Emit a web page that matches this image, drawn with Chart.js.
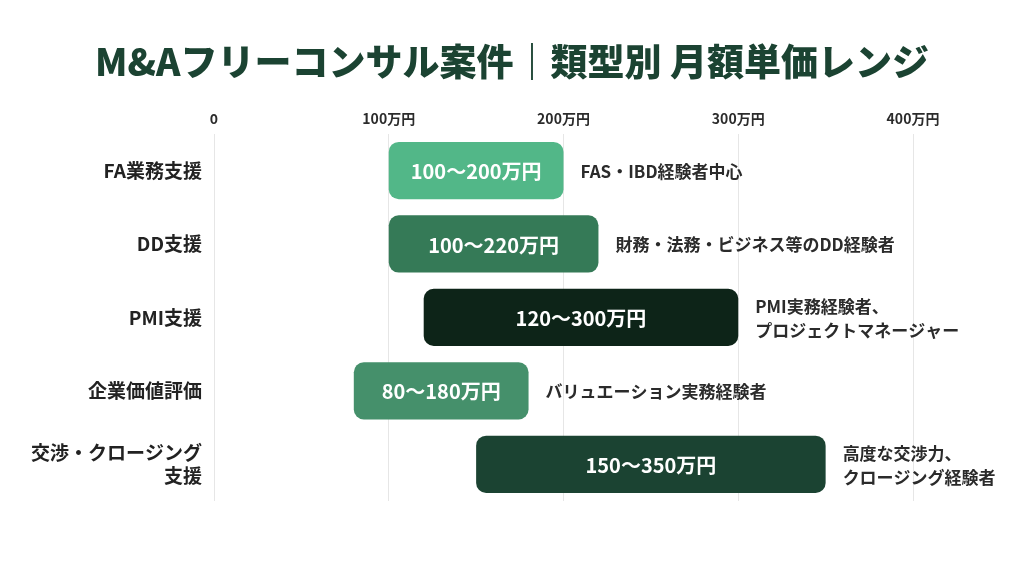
<!DOCTYPE html>
<html><head><meta charset="utf-8">
<script src="https://cdn.jsdelivr.net/npm/chart.js@4.4.1/dist/chart.umd.min.js"></script>
<style>html,body{margin:0;padding:0;background:#fff}#wrap{width:1024px;height:572px}</style>
</head><body><div id="wrap"><canvas id="c"></canvas></div>
<script>
const titleText = 'M&Aフリーコンサル案件｜類型別 月額単価レンジ';
const categories = ['FA業務支援', 'DD支援', 'PMI支援', '企業価値評価', ['交渉・クロージング', '支援']];
const minValues = [100, 100, 120, 80, 150];
const maxValues = [200, 220, 300, 180, 350];
const barLabels = ['100〜200万円', '100〜220万円', '120〜300万円', '80〜180万円', '150〜350万円'];
const notes = [['FAS・IBD経験者中心'], ['財務・法務・ビジネス等のDD経験者'], ['PMI実務経験者、', 'プロジェクトマネージャー'], ['バリュエーション実務経験者'], ['高度な交渉力、', 'クロージング経験者']];
const barColors = ['#52b788', '#357a57', '#0d2418', '#45906b', '#1b4332'];
const xTicks = [0, 100, 200, 300, 400];

const FONT = "'Noto Sans CJK JP', 'Noto Sans', sans-serif";

const titlePlugin = {
  id: 'pageTitle',
  afterDraw(chart) {
    const ctx = chart.ctx;
    ctx.save();
    ctx.fillStyle = '#1b4332';
    ctx.font = `900 37px ${FONT}`;
    ctx.textAlign = 'center';
    ctx.textBaseline = 'middle';
    ctx.fillText(titleText, chart.width / 2, 62);
    ctx.restore();
  }
};

const labelPlugin = {
  id: 'barText',
  afterDatasetsDraw(chart) {
    const ctx = chart.ctx;
    const meta = chart.getDatasetMeta(0);
    meta.data.forEach((bar, i) => {
      const left = Math.min(bar.x, bar.base), right = Math.max(bar.x, bar.base);
      ctx.save();
      ctx.fillStyle = '#ffffff';
      ctx.font = `bold 20px ${FONT}`;
      ctx.textAlign = 'center';
      ctx.textBaseline = 'middle';
      ctx.fillText(barLabels[i], (left + right) / 2, bar.y + 1);
      ctx.fillStyle = '#2b2b2b';
      ctx.font = `600 17px ${FONT}`;
      ctx.textAlign = 'left';
      const lines = notes[i];
      const lh = 24;
      lines.forEach((t, k) => {
        ctx.fillText(t, right + 17, bar.y + (k - (lines.length - 1) / 2) * lh + 1);
      });
      ctx.restore();
    });
  }
};

new Chart(document.getElementById('c'), {
  type: 'bar',
  data: {
    labels: categories,
    datasets: [{
      data: minValues.map((v, i) => [v, maxValues[i]]),
      backgroundColor: barColors,
      borderRadius: 10,
      borderSkipped: false,
      barPercentage: 0.78,
      categoryPercentage: 1
    }]
  },
  options: {
    indexAxis: 'y',
    responsive: true,
    maintainAspectRatio: false,
    animation: false,
    layout: { padding: { left: 0, right: 111, top: 103, bottom: 71 } },
    plugins: {
      legend: { display: false },
      tooltip: { enabled: false },
      title: { display: false }
    },
    scales: {
      x: {
        position: 'top',
        min: 0, max: 400,
        afterBuildTicks(scale) { scale.ticks = xTicks.map(v => ({ value: v })); },
        ticks: {
          callback: v => v === 0 ? '0' : v + '万円',
          color: '#2b2b2b',
          font: { family: FONT, size: 14, weight: 'bold' },
          padding: 7,
          maxRotation: 0
        },
        grid: { color: '#e6e6e6', drawTicks: false, lineWidth: 1 },
        border: { display: false }
      },
      y: {
        afterFit(scale) { scale.width = 214; },
        ticks: {
          color: '#222222',
          font: { family: FONT, size: 19, weight: 'bold' },
          padding: 12
        },
        grid: { display: false, drawTicks: false },
        border: { display: false }
      }
    }
  },
  plugins: [labelPlugin, titlePlugin]
});
</script></body></html>
